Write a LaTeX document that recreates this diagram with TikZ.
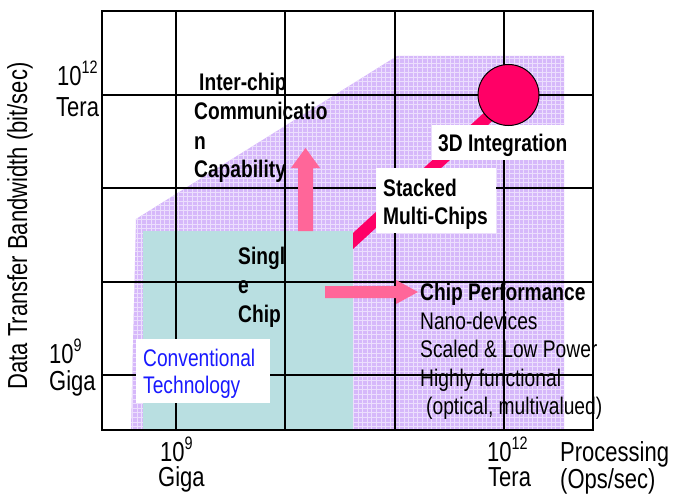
\documentclass[tikz,border=0pt]{standalone}
\usepackage{fontspec}
\setmainfont{Liberation Sans}[FakeStretch=0.8]
\definecolor{lav}{RGB}{214,184,250}
\definecolor{lavline}{RGB}{236,222,253}
\definecolor{cy}{RGB}{185,223,225}
\definecolor{hot}{RGB}{255,0,102}
\definecolor{pk}{RGB}{255,102,153}
\definecolor{cblue}{RGB}{25,25,255}
\tikzset{
  lbl/.style={anchor=base west, inner sep=0, font=\fontsize{24}{28}\selectfont},
  blbl/.style={lbl, font=\fontsize{24}{28}\selectfont\bfseries},
  ax/.style={anchor=base west, inner sep=0, font=\fontsize{27.5}{32}\selectfont},
  gridline/.style={line width=1.1pt, black},
  frameline/.style={line width=2pt, black},
  arrowfill/.style={fill=pk},
  bandfill/.style={fill=hot},
  wbox/.style={fill=white}
}
\newcommand{\tenpow}[1]{10\raisebox{0.42em}{\fontsize{18}{18}\selectfont #1}}
\begin{document}
\begin{tikzpicture}[x=1pt,y=-1pt]
\useasboundingbox (0,0) rectangle (675,495);
% purple region with texture
\begin{scope}
\clip (131,429) -- (136,219) -- (397,56) -- (564,56) -- (564,429) -- cycle;
\fill[lav] (120,50) rectangle (570,432);
\foreach \i in {0,...,100} {
  \draw[lavline, line width=0.9pt] (128+4.6*\i,50) -- (128+4.6*\i,432);
  \draw[lavline, line width=0.9pt] (120,54+4.6*\i) -- (570,54+4.6*\i);
}
\end{scope}
% single chip area
\fill[cy] (143,231) rectangle (353,429);
% pink band to 3D integration
\fill[bandfill] (353,233) -- (500,98) -- (500,114) -- (353,249) -- cycle;
% grid
\foreach \gx in {176,285,395,504} \draw[gridline] (\gx,11) -- (\gx,430);
\foreach \gy in {95,188,282,375} \draw[gridline] (102,\gy) -- (593,\gy);
\draw[frameline] (102,11) rectangle (593,430);
% arrows
\fill[arrowfill] (298,231) -- (298,168) -- (291,168) -- (305.5,148) -- (320,168) -- (313,168) -- (313,231) -- cycle;
\fill[arrowfill] (325,286) -- (396,286) -- (396,280) -- (418,292) -- (396,304) -- (396,298) -- (325,298) -- cycle;
% white boxes
\fill[wbox] (136,339) rectangle (270,403);
\fill[wbox] (376,168) rectangle (496,233);
\fill[wbox] (432,125) rectangle (570,160);
% circle
\node[circle, draw=black, line width=1pt, fill=hot, minimum size=61pt, inner sep=0] (c3d) at (508.5,95) {};
% texts
\node[blbl] (ic1) at (199,91) {Inter-chip};
\node[blbl] (ic2) at (194,120) {Communicatio};
\node[blbl] (ic3) at (194,149) {n};
\node[blbl] (ic4) at (194,177) {Capability};
\node[blbl] (st1) at (383,196) {Stacked};
\node[blbl] (st2) at (383,224) {Multi-Chips};
\node[blbl] (d3) at (438,151) {3D Integration};
\node[blbl] (sc1) at (238,264) {Singl};
\node[blbl] (sc2) at (238,293) {e};
\node[blbl] (sc3) at (238,322) {Chip};
\node[blbl] (cp1) at (420,300) {Chip Performance};
\node[lbl] (cp2) at (420,329) {Nano-devices};
\node[lbl] (cp3) at (420,357) {Scaled \& Low Power};
\node[lbl] (cp4) at (420,386) {Highly functional};
\node[lbl] (cp5) at (426,414) {(optical, multivalued)};
\node[lbl, text=cblue] (cv1) at (143,366) {Conventional};
\node[lbl, text=cblue] (cv2) at (143,393) {Technology};
% axis labels
\node[ax] (yt1) at (57,85) {\tenpow{12}};
\node[ax] (yt2) at (56,117) {Tera};
\node[ax] (yg1) at (49,363) {\tenpow{9}};
\node[ax] (yg2) at (49,390) {Giga};
\node[ax] (xg1) at (160,461) {\tenpow{9}};
\node[ax] (xg2) at (158,486) {Giga};
\node[ax] (xt1) at (487,461) {\tenpow{12}};
\node[ax] (xt2) at (488,486) {Tera};
\node[ax] (xp1) at (560,461) {Processing};
\node[ax] (xp2) at (560,488) {(Ops/sec)};
\node[ax, anchor=center, rotate=90] (ylab) at (20,226) {Data Transfer Bandwidth (bit/sec)};
\end{tikzpicture}
\end{document}
